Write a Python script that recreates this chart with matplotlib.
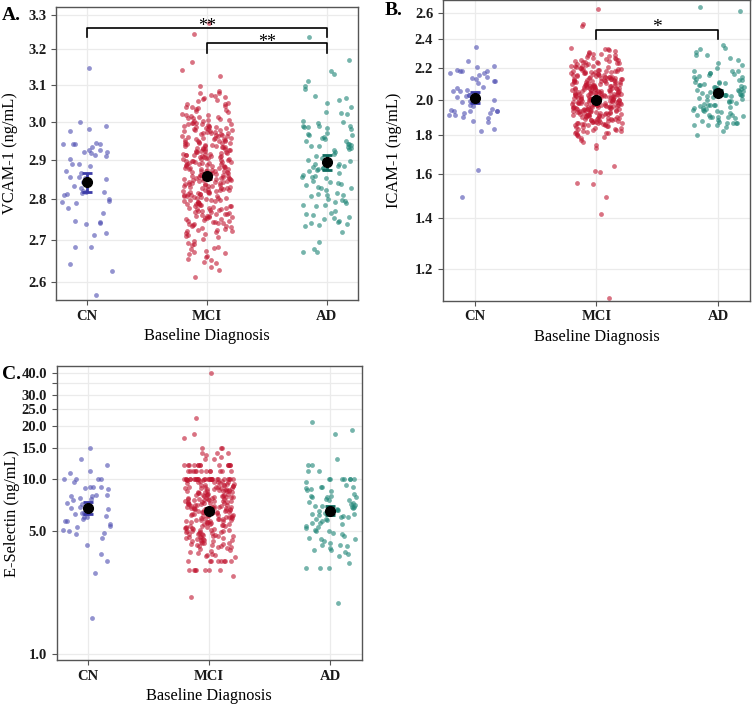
import numpy as np
import matplotlib
matplotlib.use('Agg')
import matplotlib.pyplot as plt

plt.rcParams['font.family'] = ['Liberation Serif', 'DejaVu Serif']

groups = ['CN', 'MCI', 'AD']
point_colors = ['#4b4bb0', '#c0142f', '#1a8374']
bar_colors = ['#3c3ca8', '#9c0f28', '#0e6a5e']

# ---- panel A: VCAM-1 ----
cn_vcam = [3.147, 3.0, 2.99, 2.982, 2.975, 2.945, 2.941, 2.942, 2.94, 2.94, 2.934, 2.926, 2.925,
           2.92, 2.92, 2.918, 2.911, 2.912, 2.903, 2.889, 2.89, 2.885, 2.87, 2.865, 2.857, 2.856,
           2.853, 2.85, 2.84, 2.842, 2.833, 2.828, 2.82, 2.818, 2.818, 2.815, 2.813, 2.81, 2.8,
           2.796, 2.79, 2.793, 2.778, 2.765, 2.746, 2.744, 2.738, 2.742, 2.717, 2.712, 2.683,
           2.682, 2.642, 2.626, 2.571]
mci_vcam = [3.275, 3.245, 3.165, 3.142, 3.125, 3.098, 3.084, 3.077, 3.071, 3.068, 3.064, 3.079,
            3.062, 3.073, 3.058, 3.051, 3.047, 3.043, 3.055, 3.039, 3.036, 3.032, 3.041, 3.028,
            3.025, 3.034, 3.021, 3.048, 3.018, 3.014, 3.011, 3.016, 3.007, 3.004, 3.009, 3.002,
            3.013, 3.001, 3.006, 3.019, 2.998, 2.994, 2.991, 2.987, 2.996, 2.984, 2.982, 2.989,
            2.993, 2.985, 2.981, 2.997, 2.988, 2.983, 2.995, 2.986, 2.978, 2.975, 2.972, 2.969,
            2.976, 2.966, 2.963, 2.971, 2.961, 2.974, 2.967, 2.979, 2.964, 2.97, 2.962, 2.977,
            2.968, 2.958, 2.955, 2.952, 2.949, 2.946, 2.957, 2.943, 2.941, 2.953, 2.948, 2.944,
            2.959, 2.951, 2.945, 2.956, 2.942, 2.95, 2.947, 2.954, 2.938, 2.935, 2.932, 2.929,
            2.936, 2.926, 2.923, 2.931, 2.921, 2.934, 2.927, 2.939, 2.924, 2.93, 2.922, 2.937,
            2.928, 2.933, 2.925, 2.92, 2.918, 2.915, 2.912, 2.909, 2.916, 2.906, 2.903, 2.911,
            2.901, 2.914, 2.907, 2.919, 2.904, 2.91, 2.902, 2.917, 2.908, 2.913, 2.905, 2.9,
            2.912, 2.898, 2.895, 2.892, 2.889, 2.896, 2.886, 2.883, 2.891, 2.881, 2.894, 2.887,
            2.899, 2.884, 2.89, 2.882, 2.897, 2.888, 2.893, 2.885, 2.88, 2.891, 2.878, 2.875,
            2.872, 2.869, 2.876, 2.866, 2.863, 2.871, 2.861, 2.874, 2.867, 2.879, 2.864, 2.87,
            2.862, 2.877, 2.868, 2.873, 2.865, 2.86, 2.871, 2.858, 2.855, 2.852, 2.849, 2.856,
            2.846, 2.843, 2.851, 2.841, 2.854, 2.847, 2.859, 2.844, 2.85, 2.842, 2.857, 2.848,
            2.853, 2.845, 2.84, 2.851, 2.838, 2.835, 2.832, 2.829, 2.836, 2.826, 2.823, 2.831,
            2.821, 2.834, 2.827, 2.839, 2.824, 2.83, 2.822, 2.837, 2.828, 2.833, 2.825, 2.82,
            2.818, 2.815, 2.812, 2.809, 2.816, 2.806, 2.803, 2.811, 2.801, 2.814, 2.807, 2.819,
            2.804, 2.81, 2.802, 2.817, 2.808, 2.813, 2.805, 2.798, 2.795, 2.792, 2.789, 2.796,
            2.786, 2.783, 2.791, 2.781, 2.794, 2.787, 2.799, 2.784, 2.79, 2.782, 2.797, 2.788,
            2.785, 2.778, 2.775, 2.772, 2.769, 2.776, 2.766, 2.763, 2.771, 2.761, 2.774, 2.767,
            2.779, 2.764, 2.77, 2.762, 2.777, 2.758, 2.755, 2.752, 2.749, 2.756, 2.746, 2.743,
            2.751, 2.741, 2.754, 2.747, 2.759, 2.744, 2.75, 2.742, 2.757, 2.738, 2.734, 2.729,
            2.736, 2.725, 2.722, 2.731, 2.739, 2.727, 2.733, 2.721, 2.724, 2.718, 2.712, 2.706,
            2.715, 2.702, 2.709, 2.717, 2.697, 2.69, 2.684, 2.693, 2.681, 2.688, 2.678, 2.671,
            2.665, 2.674, 2.662, 2.668, 2.658, 2.652, 2.655, 2.648, 2.645, 2.635, 2.628, 2.612]
ad_vcam = [3.237, 3.17, 3.14, 3.13, 3.11, 3.098, 3.09, 3.07, 3.06, 3.065, 3.05, 3.04, 3.025,
           3.024, 3.02, 3.003, 3.0, 2.997, 2.99, 2.989, 2.988, 2.986, 2.985, 2.984, 2.98, 2.97,
           2.968, 2.966, 2.965, 2.96, 2.958, 2.955, 2.95, 2.949, 2.94, 2.94, 2.938, 2.937, 2.935,
           2.933, 2.93, 2.928, 2.925, 2.92, 2.915, 2.91, 2.905, 2.9, 2.898, 2.89, 2.889, 2.885,
           2.884, 2.882, 2.88, 2.879, 2.876, 2.874, 2.87, 2.866, 2.86, 2.858, 2.856, 2.855,
           2.853, 2.845, 2.843, 2.84, 2.838, 2.836, 2.83, 2.829, 2.827, 2.822, 2.815, 2.812,
           2.81, 2.81, 2.808, 2.8, 2.797, 2.795, 2.792, 2.79, 2.786, 2.785, 2.783, 2.77, 2.766,
           2.762, 2.76, 2.755, 2.752, 2.75, 2.745, 2.743, 2.74, 2.738, 2.735, 2.733, 2.72, 2.695,
           2.679, 2.672, 2.671]
vcam_mean = [2.843, 2.858, 2.893]
vcam_lo = [2.819, 2.851, 2.874]
vcam_hi = [2.866, 2.865, 2.912]

# ---- panel B: ICAM-1 ----
cn_icam = [2.342, 2.245, 2.21, 2.205, 2.188, 2.17, 2.168, 2.18, 2.178, 2.182, 2.155, 2.14, 2.13,
           2.135, 2.115, 2.1, 2.115, 2.075, 2.07, 2.06, 2.05, 2.04, 2.05, 2.025, 2.02, 2.015,
           2.015, 2.0, 1.99, 1.992, 1.983, 2.03, 1.97, 1.963, 1.943, 1.935, 1.935, 1.938, 1.935,
           1.93, 1.918, 1.91, 1.91, 1.92, 1.9, 1.89, 1.874, 1.867, 1.83, 1.82, 1.62, 1.49]
mci_icam = [2.63, 2.51, 2.5, 2.335, 2.321, 2.309, 2.327, 2.302, 2.331, 2.314, 2.296, 2.281, 2.268,
            2.292, 2.259, 2.253, 2.287, 2.264, 2.276, 2.251, 2.289, 2.262, 2.247, 2.238, 2.231,
            2.219, 2.211, 2.204, 2.236, 2.224, 2.216, 2.201, 2.249, 2.241, 2.227, 2.213, 2.207,
            2.243, 2.233, 2.214, 2.197, 2.191, 2.184, 2.181, 2.174, 2.171, 2.163, 2.161, 2.154,
            2.152, 2.196, 2.187, 2.183, 2.177, 2.173, 2.167, 2.164, 2.157, 2.151, 2.193, 2.186,
            2.176, 2.166, 2.158, 2.179, 2.149, 2.144, 2.141, 2.139, 2.137, 2.134, 2.131, 2.129,
            2.127, 2.124, 2.121, 2.119, 2.117, 2.114, 2.111, 2.109, 2.107, 2.104, 2.101, 2.147,
            2.136, 2.126, 2.116, 2.106, 2.143, 2.133, 2.123, 2.113, 2.103, 2.138, 2.118, 2.128,
            2.099, 2.095, 2.093, 2.091, 2.089, 2.087, 2.085, 2.083, 2.081, 2.079, 2.077, 2.075,
            2.073, 2.071, 2.069, 2.067, 2.065, 2.063, 2.061, 2.059, 2.057, 2.055, 2.053, 2.051,
            2.097, 2.088, 2.078, 2.066, 2.058, 2.094, 2.082, 2.072, 2.062, 2.054, 2.086, 2.068,
            2.052, 2.076, 2.049, 2.045, 2.043, 2.041, 2.039, 2.037, 2.035, 2.033, 2.031, 2.029,
            2.027, 2.025, 2.023, 2.021, 2.019, 2.017, 2.015, 2.013, 2.011, 2.009, 2.007, 2.005,
            2.003, 2.001, 2.046, 2.038, 2.028, 2.018, 2.008, 2.044, 2.034, 2.024, 2.014, 2.004,
            2.048, 2.036, 2.026, 2.016, 2.006, 2.042, 2.012, 2.022, 1.998, 1.994, 1.991, 1.988,
            1.985, 1.982, 1.979, 1.976, 1.973, 1.97, 1.967, 1.964, 1.961, 1.958, 1.955, 1.952,
            1.996, 1.989, 1.983, 1.977, 1.971, 1.965, 1.959, 1.953, 1.993, 1.986, 1.98, 1.974,
            1.968, 1.962, 1.956, 1.951, 1.997, 1.987, 1.975, 1.963, 1.957, 1.992, 1.978, 1.966,
            1.954, 1.984, 1.949, 1.945, 1.941, 1.937, 1.933, 1.929, 1.925, 1.921, 1.917, 1.913,
            1.909, 1.905, 1.901, 1.947, 1.939, 1.931, 1.923, 1.915, 1.907, 1.943, 1.935, 1.927,
            1.919, 1.911, 1.903, 1.946, 1.938, 1.926, 1.914, 1.904, 1.942, 1.928, 1.916, 1.908,
            1.932, 1.922, 1.912, 1.944, 1.898, 1.893, 1.888, 1.883, 1.878, 1.873, 1.868, 1.863,
            1.858, 1.853, 1.896, 1.891, 1.886, 1.881, 1.876, 1.871, 1.866, 1.861, 1.856, 1.851,
            1.894, 1.884, 1.874, 1.864, 1.854, 1.889, 1.879, 1.869, 1.859, 1.899, 1.867, 1.857,
            1.848, 1.843, 1.838, 1.833, 1.828, 1.823, 1.818, 1.813, 1.808, 1.803, 1.846, 1.836,
            1.826, 1.816, 1.806, 1.841, 1.821, 1.811, 1.795, 1.786, 1.779, 1.771, 1.762, 1.791,
            1.746, 1.728, 1.635, 1.612, 1.608, 1.556, 1.553, 1.492, 1.415, 1.1]
ad_icam = [2.64, 2.61, 2.36, 2.335, 2.33, 2.31, 2.29, 2.29, 2.27, 2.25, 2.23, 2.22, 2.2, 2.18,
           2.18, 2.18, 2.16, 2.155, 2.165, 2.14, 2.14, 2.145, 2.11, 2.11, 2.12, 2.1, 2.09, 2.08,
           2.09, 2.08, 2.075, 2.07, 2.06, 2.06, 2.065, 2.055, 2.05, 2.045, 2.04, 2.035, 2.03,
           2.03, 2.03, 2.03, 2.025, 2.02, 2.015, 2.01, 2.005, 1.995, 1.99, 1.985, 1.98, 1.975,
           1.97, 1.97, 1.965, 1.965, 1.96, 1.955, 1.948, 1.945, 1.94, 1.94, 1.935, 1.93, 1.925,
           1.92, 1.91, 1.91, 1.91, 1.905, 1.9, 1.895, 1.895, 1.895, 1.89, 1.88, 1.875, 1.87,
           1.862, 1.862, 1.865, 1.862, 1.855, 1.85, 1.85, 1.84, 1.82, 1.8, 2.095, 2.085, 2.1,
           2.06, 2.02, 1.99, 1.95, 2.12, 2.17, 2.13]
icam_mean = [2.01, 2.0, 2.043]
icam_lo = [1.981, 1.99, 2.03]
icam_hi = [2.044, 2.01, 2.056]

# ---- panel C: E-Selectin ----
cn_esel = [15.0, 13.0, 12.0, 11.0, 10.8, 10.0, 10.0, 10.0, 10.0, 9.6, 9.0, 9.0, 8.9, 8.8, 8.7,
           8.0, 8.1, 8.1, 8.0, 7.7, 7.5, 7.6, 7.3, 7.2, 6.9, 6.8, 6.8, 6.7, 6.6, 6.4, 6.3, 6.4,
           6.0, 6.0, 6.1, 5.9, 5.7, 5.7, 5.5, 5.4, 5.3, 5.1, 5.0, 4.9, 4.8, 4.6, 4.2, 3.7, 3.4,
           2.9, 1.6]
mci_esel = ([40.0, 22.0, 18.0, 17.0, 15.0, 15.0, 15.0, 14.0, 14.0, 14.0, 13.7, 13.3, 13.0, 13.0]
            + [12.0] * 14 + [11.0] * 12 + [10.0] * 25
            + [9.9, 9.8, 9.7, 9.6, 9.5, 9.4, 9.3, 9.2, 9.1, 9.0, 9.85, 9.65, 9.45, 9.25, 9.05,
               9.75, 9.55, 9.35, 9.15, 9.95, 9.52, 9.22,
               8.96, 8.91, 8.84, 8.79, 8.73, 8.68, 8.62, 8.57, 8.51, 8.46, 8.41, 8.36, 8.29,
               8.24, 8.18, 8.13, 8.07, 8.02, 8.93, 8.71, 8.54, 8.33, 8.11, 8.86, 8.64, 8.44,
               8.21, 8.04, 8.5, 8.8,
               7.97, 7.93, 7.88, 7.82, 7.77, 7.71, 7.66, 7.61, 7.55, 7.49, 7.44, 7.38, 7.33,
               7.27, 7.22, 7.16, 7.11, 7.05, 7.01, 7.95, 7.74, 7.58, 7.41, 7.24, 7.07, 7.86,
               7.63, 7.47, 7.3, 7.13, 7.9, 7.52, 7.19, 7.69, 7.36,
               6.98, 6.93, 6.87, 6.82, 6.76, 6.71, 6.66, 6.6, 6.55, 6.49, 6.44, 6.38, 6.33,
               6.27, 6.22, 6.16, 6.11, 6.05, 6.01, 6.95, 6.79, 6.63, 6.47, 6.3, 6.14, 6.89,
               6.73, 6.57, 6.41, 6.24, 6.08, 6.84, 6.52, 6.19, 6.68, 6.35, 6.9, 6.03,
               5.97, 5.92, 5.86, 5.81, 5.75, 5.7, 5.64, 5.59, 5.53, 5.48, 5.42, 5.37, 5.31,
               5.26, 5.2, 5.15, 5.09, 5.04, 5.0, 5.94, 5.78, 5.62, 5.45, 5.29, 5.12, 5.88,
               5.72, 5.56, 5.39, 5.23, 5.06, 5.83, 5.5, 5.17, 5.67, 5.34, 5.9, 5.02,
               4.98, 4.95, 4.91, 4.88, 4.84, 4.81, 4.77, 4.73, 4.7, 4.66, 4.62, 4.59, 4.55,
               4.52, 4.93, 4.79, 4.64, 4.86, 4.57, 4.71,
               4.48, 4.44, 4.4, 4.36, 4.32, 4.28, 4.24, 4.2, 4.16, 4.12, 4.08, 4.04, 4.46,
               4.3, 4.14, 4.38, 4.22, 4.06,
               3.96, 3.9, 3.84, 3.78, 3.72, 3.66, 3.6, 3.55, 3.81, 3.69]
            + [3.4] * 8 + [3.0] * 7 + [2.8, 2.1])
ad_esel = ([21.0, 19.0, 18.0, 13.0, 12.0, 12.0, 11.0, 11.0] + [10.0] * 7
           + [9.5, 9.2, 9.0, 8.9, 8.9, 8.8, 8.7, 8.6, 8.5, 8.2, 8.0, 8.0, 7.9, 7.8, 7.8, 7.6,
              7.5, 7.5, 7.4, 7.3, 7.2, 7.1, 7.0, 7.0, 6.9, 6.9, 6.8, 6.7, 6.6, 6.6, 6.5, 6.4,
              6.3, 6.3, 6.2, 6.1, 6.0, 6.0, 5.9, 5.9, 5.8, 5.7, 5.6, 5.6, 5.5, 5.4, 5.3, 5.2,
              5.1, 5.0, 5.0, 4.9, 4.8, 4.7, 4.6, 4.5, 4.5, 4.4, 4.3, 4.2, 4.2, 4.1, 4.0, 3.9,
              3.9, 3.8, 3.7, 3.6, 3.3, 3.1, 3.1, 3.1, 1.95])
esel_mean = [6.8, 6.57, 6.57]
esel_lo = [6.31, 6.38, 6.18]
esel_hi = [7.36, 6.77, 6.98]


def jitter(n, phase):
    # deterministic scatter offsets (hash of the point index), +-0.21 category units
    h = np.sin(np.arange(n) * 12.9898 + phase) * 43758.5453
    return (h - np.floor(h) - 0.5) * 0.42


def draw_panel(ax, data, means, lows, highs, yticks, ylabels, ylim, ylabel, ylab_x):
    ax.set_yscale('log')
    for i, vals in enumerate(data):
        x = i + 1 + jitter(len(vals), 1.7 * i + 0.3)
        ax.scatter(x, vals, s=12, color=point_colors[i], alpha=0.6, linewidths=0, zorder=2)
    for i in range(3):
        ax.errorbar(i + 1, means[i], yerr=[[means[i] - lows[i]], [highs[i] - means[i]]],
                    fmt='none', ecolor=bar_colors[i], elinewidth=2, capsize=3.3, capthick=2,
                    zorder=3)
        ax.plot(i + 1, means[i], 'o', color='black', ms=7, zorder=4)
    ax.set_xlim(0.74, 3.26)
    ax.set_ylim(*ylim)
    ax.set_yticks(yticks, ylabels)
    ax.minorticks_off()
    ax.set_xticks([1, 2, 3], groups)
    ax.grid(True, color='#ebebeb', lw=0.9)
    ax.set_axisbelow(True)
    for s in ax.spines.values():
        s.set_color('#555555')
        s.set_linewidth(1.0)
    ax.tick_params(length=3.5, color='#555555', labelsize=10.5, labelcolor='#1a1a1a')
    for lab in ax.get_xticklabels() + ax.get_yticklabels():
        lab.set_fontweight('bold')
    ax.set_xlabel('Baseline Diagnosis', fontsize=11.8, labelpad=4)
    ax.set_ylabel(ylabel, fontsize=11.8)
    ax.yaxis.set_label_coords(ylab_x, 0.5)


fig = plt.figure(figsize=(7.52, 7.05), dpi=100)

axA = fig.add_axes([0.0745, 0.5745, 0.4016, 0.4156])
draw_panel(axA, [cn_vcam, mci_vcam, ad_vcam], vcam_mean, vcam_lo, vcam_hi,
           [2.6, 2.7, 2.8, 2.9, 3.0, 3.1, 3.2, 3.3],
           ['2.6', '2.7', '2.8', '2.9', '3.0', '3.1', '3.2', '3.3'],
           (2.559, 3.3236), 'VCAM-1 (ng/mL)', -0.127)
axA.plot([1, 1, 3, 3], [3.237, 3.263, 3.263, 3.237], color='black', lw=1.2)
axA.plot([2, 2, 3, 3], [3.189, 3.218, 3.218, 3.189], color='black', lw=1.2)
axA.text(2, 3.253, '**', ha='center', va='baseline', fontsize=13)
axA.text(2.5, 3.208, '**', ha='center', va='baseline', fontsize=13)

axB = fig.add_axes([0.589, 0.5735, 0.4082, 0.4258])
draw_panel(axB, [cn_icam, mci_icam, ad_icam], icam_mean, icam_lo, icam_hi,
           [1.2, 1.4, 1.6, 1.8, 2.0, 2.2, 2.4, 2.6],
           ['1.2', '1.4', '1.6', '1.8', '2.0', '2.2', '2.4', '2.6'],
           (1.091, 2.696), 'ICAM-1 (ng/mL)', -0.134)
axB.plot([2, 2, 3, 3], [2.397, 2.468, 2.468, 2.397], color='black', lw=1.2)
axB.text(2.5, 2.455, '*', ha='center', va='baseline', fontsize=14)

axC = fig.add_axes([0.0754, 0.0638, 0.4056, 0.417])
draw_panel(axC, [cn_esel, mci_esel, ad_esel], esel_mean, esel_lo, esel_hi,
           [1, 5, 10, 15, 20, 25, 30, 35, 40],
           ['1.0', '5.0', '10.0', '15.0', '20.0', '25.0', '30.0', '', '40.0'],
           (0.924, 43.8), 'E-Selectin (ng/mL)', -0.121)

fig.text(0.003, 0.978, 'A.', fontsize=14, fontweight='bold', va='center')
fig.text(0.511, 0.985, 'B.', fontsize=14, fontweight='bold', va='center')
fig.text(0.003, 0.469, 'C.', fontsize=14, fontweight='bold', va='center')

fig.savefig('out.png', dpi=100)
